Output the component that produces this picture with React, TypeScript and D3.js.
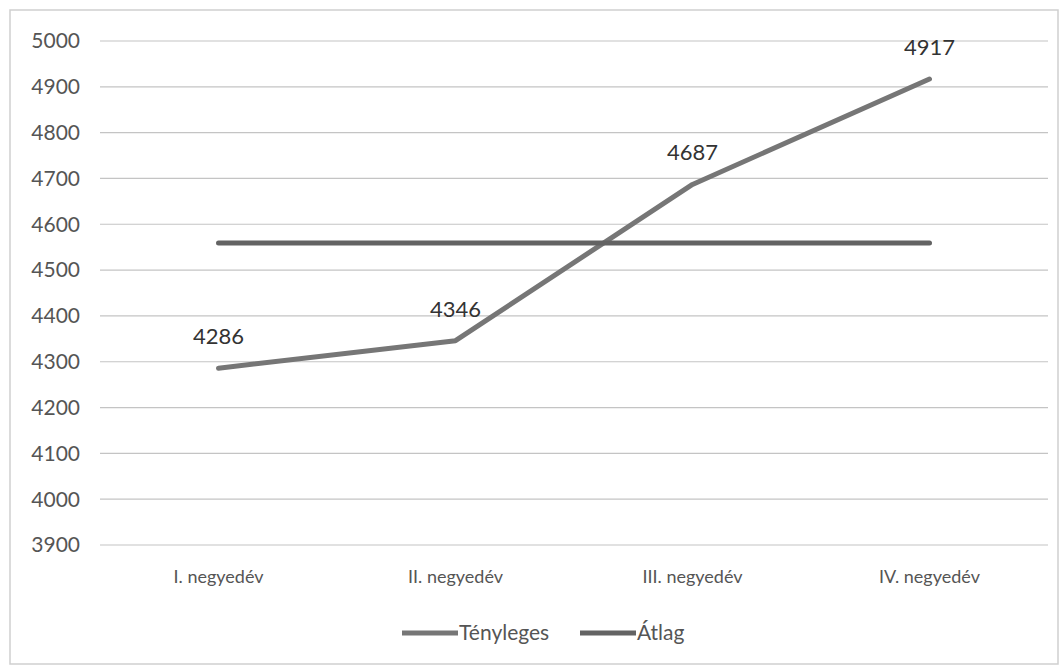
import * as d3 from "d3";

const quarters = ["I. negyedév", "II. negyedév", "III. negyedév", "IV. negyedév"];
const actual = [4286, 4346, 4687, 4917];
const average = [4559, 4559, 4559, 4559];
const yTicks = [3900, 4000, 4100, 4200, 4300, 4400, 4500, 4600, 4700, 4800, 4900, 5000];
const seriesNames = ["Tényleges", "Átlag"];

const W = 1063;
const H = 666;
const font = "Lato, 'Open Sans', sans-serif";

export default function App() {
  const margin = { top: 41, right: 15, bottom: 121, left: 100 };
  const x = d3.scaleBand().domain(quarters).range([margin.left, W - margin.right]);
  const y = d3.scaleLinear().domain([3900, 5000]).range([H - margin.bottom, margin.top]);
  const cx = (q: string) => (x(q) ?? 0) + x.bandwidth() / 2;

  const line = d3.line<number>()
    .x((_, i) => cx(quarters[i]))
    .y((d) => y(d));

  const series = [
    { name: seriesNames[0], values: actual, color: "#767676" },
    { name: seriesNames[1], values: average, color: "#636363" },
  ];

  return (
    <svg width={W} height={H} style={{ position: "absolute", left: 0, top: 0, background: "#fff" }}>
      <rect x={10} y={10} width={1048} height={654} fill="#fff" stroke="#cfcfcf" strokeWidth={1.5} />

      {/* grid */}
      {yTicks.map((t) => (
        <g key={t}>
          <line x1={margin.left} x2={W - margin.right} y1={y(t)} y2={y(t)} stroke="#c4c4c4" strokeWidth={1.2} />
          <text x={80} y={y(t)} dy="0.35em" textAnchor="end" fontFamily={font} fontSize={21} fill="#555">
            {t}
          </text>
        </g>
      ))}

      {/* category labels */}
      {quarters.map((q) => (
        <text key={q} x={cx(q)} y={H - margin.bottom + 38} textAnchor="middle" fontFamily={font} fontSize={18} fill="#555">
          {q}
        </text>
      ))}

      {/* lines */}
      {series.map((s) => (
        <path key={s.name} d={line(s.values) ?? ""} fill="none" stroke={s.color} strokeWidth={5} strokeLinecap="round" strokeLinejoin="round" />
      ))}

      {/* data labels */}
      {actual.map((v, i) => (
        <text key={i} x={cx(quarters[i])} y={y(v) - 24} textAnchor="middle" fontFamily={font} fontSize={22} fill="#333">
          {v}
        </text>
      ))}

      {/* legend */}
      <g fontFamily={font} fontSize={21} fill="#555">
        <line x1={402} x2={458} y1={633} y2={633} stroke={series[0].color} strokeWidth={5} />
        <text x={459} y={633} dy="0.35em">{series[0].name}</text>
        <line x1={580} x2={636} y1={633} y2={633} stroke={series[1].color} strokeWidth={5} />
        <text x={637} y={633} dy="0.35em">{series[1].name}</text>
      </g>
    </svg>
  );
}
